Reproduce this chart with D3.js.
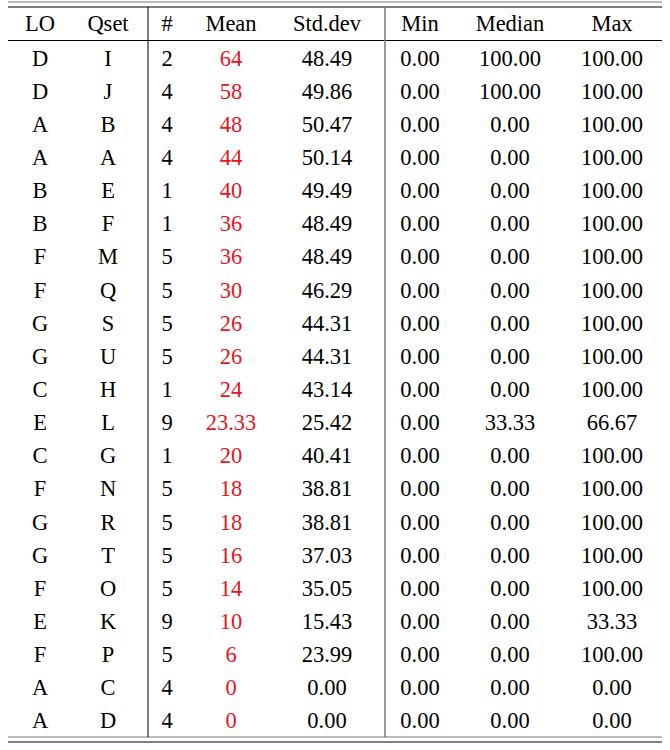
<!DOCTYPE html>
<html><head><meta charset="utf-8">
<script src="https://cdn.jsdelivr.net/npm/d3@7.9.0/dist/d3.min.js"></script>
<style>body{margin:0;background:#fff}svg text{font-family:"Liberation Serif",serif;font-size:22.5px}</style>
</head><body><svg width="670" height="750"></svg>
<script>
const headers = ["LO","Qset","#","Mean","Std.dev","Min","Median","Max"];
const lo = ["D","D","A","A","B","B","F","F","G","G","C","E","C","F","G","G","F","E","F","A","A"];
const qset = ["I","J","B","A","E","F","M","Q","S","U","H","L","G","N","R","T","O","K","P","C","D"];
const count = [2,4,4,4,1,1,5,5,5,5,1,9,1,5,5,5,5,9,5,4,4];
const mean = ["64","58","48","44","40","36","36","30","26","26","24","23.33","20","18","18","16","14","10","6","0","0"];
const stdev = ["48.49","49.86","50.47","50.14","49.49","48.49","48.49","46.29","44.31","44.31","43.14","25.42","40.41","38.81","38.81","37.03","35.05","15.43","23.99","0.00","0.00"];
const minv = lo.map(() => "0.00");
const median = ["100.00","100.00","0.00","0.00","0.00","0.00","0.00","0.00","0.00","0.00","0.00","33.33","0.00","0.00","0.00","0.00","0.00","0.00","0.00","0.00","0.00"];
const maxv = ["100.00","100.00","100.00","100.00","100.00","100.00","100.00","100.00","100.00","100.00","100.00","66.67","100.00","100.00","100.00","100.00","100.00","33.33","100.00","0.00","0.00"];

const cols = [lo, qset, count, mean, stdev, minv, median, maxv];
const colX = [40, 108, 167, 231, 327, 420, 510, 612];
const svg = d3.select("svg");
const y = d3.scaleBand().domain(d3.range(lo.length)).range([41, 737]);

// rules
const line = (x1, y1, x2, y2, c, w) => svg.append("line").attr("x1", x1).attr("y1", y1)
  .attr("x2", x2).attr("y2", y2).attr("stroke", c).attr("stroke-width", w);
line(8, 2, 662, 2, "#777", 1.2);
line(8, 7, 662, 7, "#000", 1);
line(8, 40.5, 662, 40.5, "#000", 1);
line(8, 737, 662, 737, "#777", 1.2);
line(8, 742, 662, 742, "#000", 1);
line(148, 7, 148, 737, "#000", 1);
line(385, 7, 385, 737, "#777", 1.5);

svg.selectAll(".h").data(headers).join("text")
  .attr("x", (d, i) => colX[i]).attr("y", 31).attr("text-anchor", "middle").text(d => d);

cols.forEach((col, ci) => {
  svg.selectAll(".c" + ci).data(col).join("text")
    .attr("x", colX[ci]).attr("y", (d, i) => y(i) + y.bandwidth() / 2 + 8)
    .attr("text-anchor", "middle")
    .attr("fill", ci === 3 ? "#e8141c" : "#000")
    .text(d => d);
});
</script></body></html>
